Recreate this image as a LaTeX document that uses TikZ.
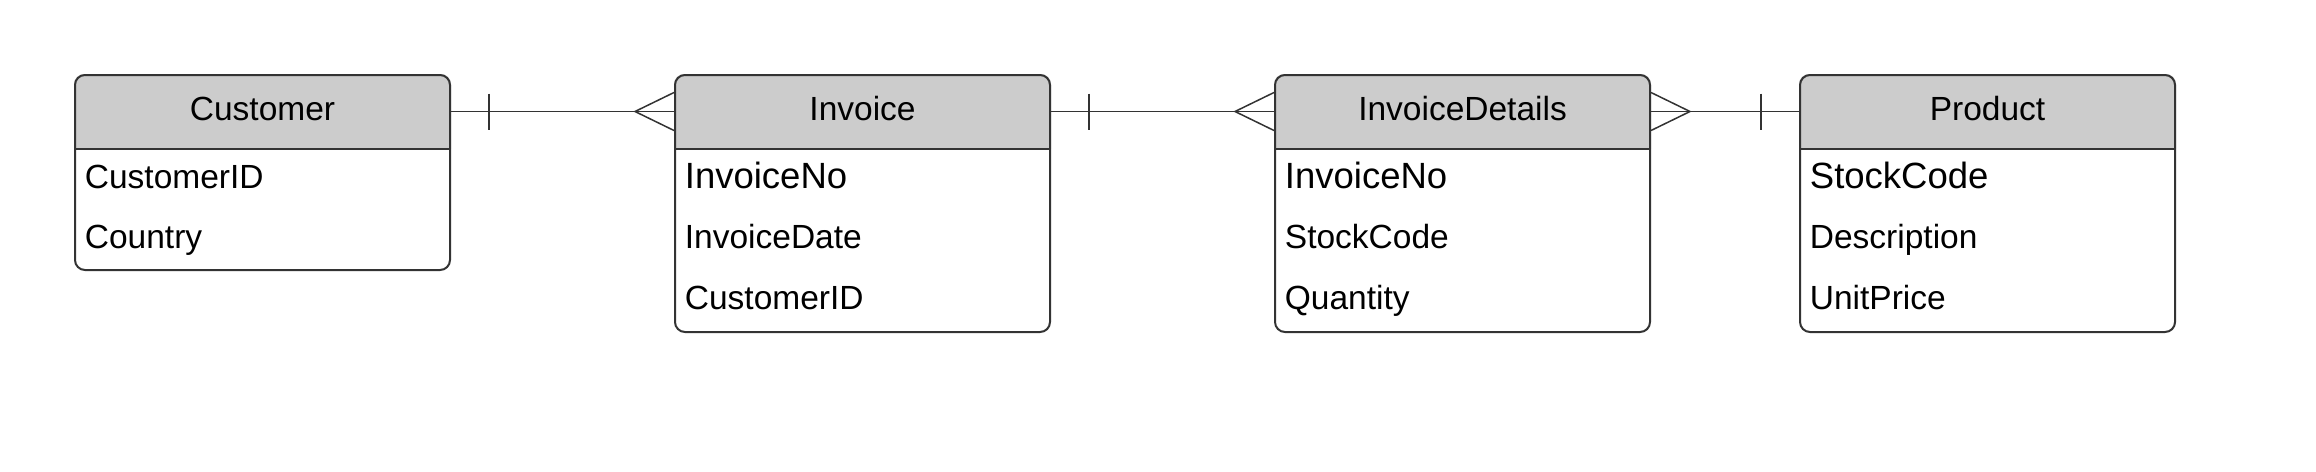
\documentclass[tikz,border=0pt]{standalone}
\usepackage{fontspec}
\setmainfont{Liberation Sans}
\usepackage{xcolor}
\definecolor{entheadfill}{rgb}{0.80,0.80,0.80}
\definecolor{entdraw}{rgb}{0.20,0.20,0.20}
\definecolor{reldraw}{rgb}{0.20,0.20,0.20}
\usepackage{tikz}
\usetikzlibrary{positioning,backgrounds}

\begin{document}
\begin{tikzpicture}[
  x=0.5pt, y=-0.5pt,
  every node/.style={inner sep=0pt, font=\fontsize{16.75}{20}\selectfont},
  entbox/.style ={rectangle, rounded corners=5pt, draw=entdraw, line width=1pt, minimum width=187.5pt},
  enthead/.style={fill=entheadfill, rounded corners=5pt},
  entsep/.style ={draw=entdraw, line width=1pt},
  entname/.style={anchor=base},
  attr/.style   ={anchor=base west},
  keyattr/.style={anchor=base west, font=\fontsize{18.25}{22}\selectfont},
  rel/.style    ={line width=0.75pt, draw=reldraw}
]
\useasboundingbox (0,0) rectangle (2316,471);

% entity boxes
\node[entbox, minimum height=97.5pt]  (customer) at ( 262.5,172.5) {};
\node[entbox, minimum height=128.5pt] (invoice)  at ( 862.5,203.5) {};
\node[entbox, minimum height=128.5pt] (details)  at (1462.5,203.5) {};
\node[entbox, minimum height=128.5pt] (product)  at (1987.5,203.5) {};

% grey title bands, separator under each
\foreach \ent in {customer, invoice, details, product} {
  \path (\ent.north west) ++(0,75) coordinate (\ent S);
  \path (\ent.north) ++(0,37.5) coordinate (\ent H);
  \begin{scope}[on background layer]
    \fill[enthead] (\ent S) -- (\ent.north west) -- (\ent.north east) -- (\ent S -| \ent.east);
  \end{scope}
  \draw[entsep] (\ent S) -- (\ent S -| \ent.east);
}

\node[entname] (customerT) at ( 262.5,120) {Customer};
\node[attr]    (customerA) at (  84.5,188) {CustomerID};
\node[attr]    (customerB) at (  84.5,248) {Country};

\node[entname] (invoiceT)  at ( 862.5,120) {Invoice};
\node[keyattr] (invoiceA)  at ( 684.5,188) {InvoiceNo};
\node[attr]    (invoiceB)  at ( 684.5,248) {InvoiceDate};
\node[attr]    (invoiceC)  at ( 684.5,309) {CustomerID};

\node[entname] (detailsT)  at (1462.5,120) {InvoiceDetails};
\node[keyattr] (detailsA)  at (1284.5,188) {InvoiceNo};
\node[attr]    (detailsB)  at (1284.5,248) {StockCode};
\node[attr]    (detailsC)  at (1284.5,309) {Quantity};

\node[entname] (productT)  at (1987.5,120) {Product};
\node[keyattr] (productA)  at (1809.5,188) {StockCode};
\node[attr]    (productB)  at (1809.5,248) {Description};
\node[attr]    (productC)  at (1809.5,309) {UnitPrice};

% one customer -- many invoices
\draw[rel] (customerH -| customer.east) -- (invoiceH -| invoice.west);
\draw[rel] (customerH -| customer.east) ++(38,-18) -- ++(0,36);
\draw[rel] (invoiceH -| invoice.west) ++(0,-19) -- ++(-39,19) -- ++(39,19);

% one invoice -- many detail lines
\draw[rel] (invoiceH -| invoice.east) -- (detailsH -| details.west);
\draw[rel] (invoiceH -| invoice.east) ++(38,-18) -- ++(0,36);
\draw[rel] (detailsH -| details.west) ++(0,-19) -- ++(-39,19) -- ++(39,19);

% many detail lines -- one product
\draw[rel] (detailsH -| details.east) -- (productH -| product.west);
\draw[rel] (productH -| product.west) ++(-38,-18) -- ++(0,36);
\draw[rel] (detailsH -| details.east) ++(0,-19) -- ++(39,19) -- ++(-39,19);

\end{tikzpicture}
\end{document}
